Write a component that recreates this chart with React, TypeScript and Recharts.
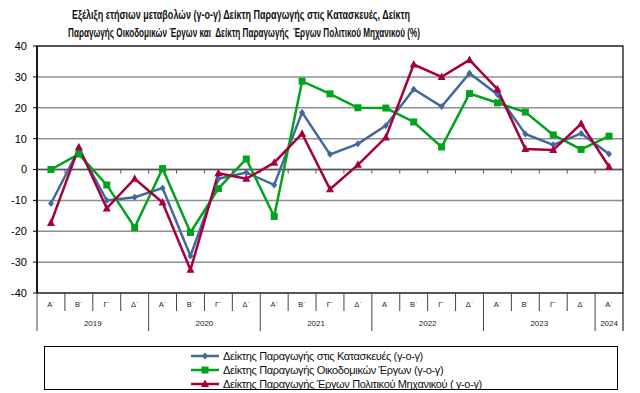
import React from 'react';
import { LineChart, Line, XAxis, YAxis, CartesianGrid, ReferenceLine, ReferenceArea } from 'recharts';

const quarters = [
  'Α΄', 'Β΄', 'Γ΄', 'Δ΄',
  'Α΄', 'Β΄', 'Γ΄', 'Δ΄',
  'Α΄', 'Β΄', 'Γ΄', 'Δ΄',
  'Α΄', 'Β΄', 'Γ΄', 'Δ΄',
  'Α΄', 'Β΄', 'Γ΄', 'Δ΄',
  'Α΄',
];
const years = [
  '2019', '2019', '2019', '2019',
  '2020', '2020', '2020', '2020',
  '2021', '2021', '2021', '2021',
  '2022', '2022', '2022', '2022',
  '2023', '2023', '2023', '2023',
  '2024',
];

// Δείκτης Παραγωγής στις Κατασκευές
const construction = [-11, 6.5, -10, -9, -6, -28, -3, -1, -5, 18.5, 4.9, 8.3, 14.2, 26, 20.4, 31.2, 24.3, 11.5, 8, 11.7, 5];
// Δείκτης Παραγωγής Οικοδομικών Έργων
const building = [0, 5, -5, -18.8, 0.3, -20.4, -6.2, 3.4, -15.2, 28.6, 24.5, 20, 19.9, 15.4, 7.3, 24.6, 21.6, 18.6, 11.2, 6.5, 10.8];
// Δείκτης Παραγωγής Έργων Πολιτικού Μηχανικού
const civil = [-17.3, 7.2, -12.6, -3, -10.7, -32.5, -1.2, -3, 2.2, 11.6, -6.4, 1.5, 10.4, 34, 30, 35.5, 26, 6.6, 6.3, 14.8, 0.9];

const yTicks = [-40, -30, -20, -10, 0, 10, 20, 30, 40];

const titleLines = [
  'Εξέλιξη ετήσιων μεταβολών (γ-ο-γ) Δείκτη Παραγωγής στις Κατασκευές, Δείκτη',
  'Παραγωγής Οικοδομικών Έργων και  Δείκτη Παραγωγής  Έργων Πολιτικού Μηχανικού (%)',
];

const BLUE = '#41699c';
const GREEN = '#00a31c';
const RED = '#a6003c';

const series = [
  { key: 'construction', name: 'Δείκτης Παραγωγής στις Κατασκευές (γ-ο-γ)', color: BLUE, shape: 'diamond' },
  { key: 'building', name: 'Δείκτης Παραγωγής Οικοδομικών Έργων (γ-ο-γ)', color: GREEN, shape: 'square' },
  { key: 'civil', name: 'Δείκτης Παραγωγής Έργων Πολιτικού Μηχανικού ( γ-ο-γ)', color: RED, shape: 'triangle' },
];

const data = quarters.map((q, i) => ({
  q: `${q}-${i}`,
  construction: construction[i],
  building: building[i],
  civil: civil[i],
}));

const FONT = '"Liberation Sans", Arial, sans-serif';

const Marker = ({ cx, cy, shape, color }: any) => {
  if (cx == null || cy == null) return null;
  if (shape === 'square') {
    return <rect x={cx - 3.5} y={cy - 3.5} width={7} height={7} fill={color} />;
  }
  if (shape === 'triangle') {
    return <path d={`M${cx},${cy - 4.5} L${cx + 4},${cy + 3} L${cx - 4},${cy + 3} Z`} fill={color} />;
  }
  return <path d={`M${cx},${cy - 3.5} L${cx + 3},${cy} L${cx},${cy + 3.5} L${cx - 3},${cy} Z`} fill={color} />;
};

const ZeroLine = (props: any) => {
  const { x1, x2, y1 } = props;
  const step = (x2 - x1) / quarters.length;
  return (
    <g>
      <line x1={x1} y1={y1} x2={x2} y2={y1} stroke="#555" strokeWidth={1.5} />
      {quarters.map((_, i) => (
        <line key={i} x1={x1 + step * (i + 1)} y1={y1} x2={x1 + step * (i + 1)} y2={y1 + 4} stroke="#555" />
      ))}
    </g>
  );
};

const QuarterTick = (props: any) => {
  const { x, y, index, payload, width, visibleTicksCount } = props;
  const half = payload?.offset || width / visibleTicksCount / 2;
  const yearStart = index === 0 || years[index - 1] !== years[index];
  const yearLen = years.filter((yr) => yr === years[index]).length;
  const last = index === quarters.length - 1;
  return (
    <g>
      <line x1={x - half} y1={y} x2={x - half} y2={yearStart ? y + 38 : y + 18} stroke="#444" />
      {last && <line x1={x + half} y1={y} x2={x + half} y2={y + 38} stroke="#000" />}
      <text x={x} y={y + 14} textAnchor="middle" fontSize={7.5} fontFamily={FONT} fill="#222">
        {quarters[index]}
      </text>
      {yearStart && (
        <text x={x - half + yearLen * half} y={y + 33} textAnchor="middle" fontSize={8} fontFamily={FONT} fill="#222">
          {years[index]}
        </text>
      )}
    </g>
  );
};

const LegendSample = ({ color, shape }: any) => (
  <svg width={28} height={10} style={{ display: 'block' }}>
    <line x1={0} y1={5} x2={28} y2={5} stroke={color} strokeWidth={2.5} />
    <Marker cx={14} cy={5} shape={shape} color={color} />
  </svg>
);

export default function App() {
  return (
    <div style={{ position: 'absolute', left: 0, top: 0, width: 640, height: 393, background: '#fff' }}>
      <svg width={640} height={44} style={{ position: 'absolute', left: 0, top: 0 }}>
        <text x={241} y={18.5} textAnchor="middle" fontFamily={FONT} fontWeight="bold" fontSize={12} fill="#111"
          textLength={338} lengthAdjust="spacingAndGlyphs" xmlSpace="preserve">
          {titleLines[0]}
        </text>
        <text x={244} y={36.5} textAnchor="middle" fontFamily={FONT} fontWeight="bold" fontSize={12} fill="#111"
          textLength={352} lengthAdjust="spacingAndGlyphs" xmlSpace="preserve">
          {titleLines[1]}
        </text>
      </svg>
      <div style={{ position: 'absolute', left: 0, top: 0 }}>
        <LineChart width={640} height={393} data={data} margin={{ top: 46, right: 17, left: 0, bottom: 60 }}>
          <CartesianGrid vertical={false} stroke="#8f8f8f" strokeWidth={1.5} />
          <ReferenceArea y1={-40} y2={40} fill="none" stroke="#000" strokeWidth={1.2} />
          <XAxis
            dataKey="q"
            scale="band"
            height={40}
            axisLine={false}
            tickLine={false}
            tickSize={0}
            tickMargin={0}
            interval={0}
            tick={<QuarterTick />}
          />
          <YAxis
            width={37}
            domain={[-40, 40]}
            ticks={yTicks}
            interval={0}
            axisLine={{ stroke: '#000', strokeWidth: 1.5 }}
            tickLine={{ stroke: '#000' }}
            tickSize={4}
            tickMargin={6}
            tick={{ fontSize: 11, fontFamily: FONT, fill: '#000' }}
          />
          <ReferenceLine y={0} shape={<ZeroLine />} />
          {series.map((s) => (
            <Line
              key={s.key}
              dataKey={s.key}
              name={s.name}
              stroke={s.color}
              strokeWidth={2.5}
              isAnimationActive={false}
              dot={(p: any) => <Marker key={`${s.key}-${p.index}`} cx={p.cx} cy={p.cy} shape={s.shape} color={s.color} />}
              activeDot={false}
            />
          ))}
        </LineChart>
      </div>
      <div
        style={{
          position: 'absolute',
          left: 44,
          top: 346,
          width: 574,
          height: 44,
          boxSizing: 'border-box',
          border: '1px solid #000',
          fontFamily: FONT,
          fontSize: 11,
          letterSpacing: -0.35,
          color: '#111',
          paddingTop: 2,
        }}
      >
        {series.map((s) => (
          <div key={s.key} style={{ display: 'flex', alignItems: 'center', height: 14, marginLeft: 146 }}>
            <LegendSample color={s.color} shape={s.shape} />
            <span style={{ marginLeft: 4, whiteSpace: 'nowrap' }}>{s.name}</span>
          </div>
        ))}
      </div>
    </div>
  );
}
